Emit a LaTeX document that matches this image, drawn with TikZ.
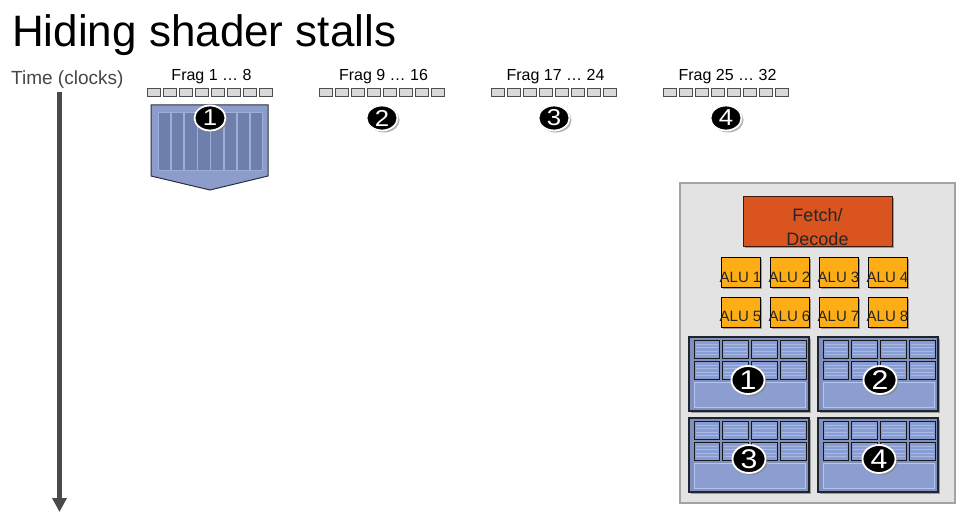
\documentclass[tikz,border=0pt]{standalone}
\usepackage{fontspec}
\setmainfont{Liberation Sans}
\newfontfamily\widefont[FakeStretch=1.12]{Liberation Sans}
\usetikzlibrary{arrows.meta,shapes.geometric,shadows}
\definecolor{panelc}{HTML}{E3E3E3}
\definecolor{panelb}{HTML}{A3A3A3}
\definecolor{fetchc}{HTML}{D9541E}
\definecolor{fetchb}{HTML}{3A1A0A}
\definecolor{aluc}{HTML}{FDAE17}
\definecolor{blockc}{HTML}{8191BD}
\definecolor{blockb}{HTML}{1F2430}
\definecolor{regc}{HTML}{8A9DD2}
\definecolor{regs}{HTML}{A8B9E6}
\definecolor{bigc}{HTML}{8C9ECF}
\definecolor{bigb}{HTML}{B5C5F2}
\definecolor{grpc}{HTML}{8C9DCB}
\definecolor{grpb}{HTML}{2A3040}
\definecolor{colc}{HTML}{6E7FAB}
\definecolor{coll}{HTML}{9DAED9}
\definecolor{sqc}{HTML}{D9D9D9}
\definecolor{sqb}{HTML}{4D4D4D}
\definecolor{timec}{HTML}{4A4540}
\definecolor{arrowc}{HTML}{4A4A4A}
\definecolor{shadc}{HTML}{7F7F7F}
\tikzset{
  sq/.style={draw=sqb, fill=sqc, line width=0.8pt, minimum width=13pt, minimum height=8pt, inner sep=0pt},
  badge/.style={ellipse, fill=black, draw=white, line width=1.8pt, text=white, inner sep=0pt,
    drop shadow={shadow xshift=2pt, shadow yshift=-2pt, fill=shadc, opacity=0.6}},
  topbadge/.style={badge, minimum width=31pt, minimum height=25pt, font=\widefont\fontsize{23}{23}\selectfont},
  ctxbadge/.style={badge, minimum width=33pt, minimum height=28pt, font=\widefont\fontsize{27}{27}\selectfont},
  alubox/.style={draw=black, fill=aluc, line width=0.9pt, minimum width=39pt, minimum height=30pt, inner sep=0pt,
    drop shadow={shadow xshift=1.5pt, shadow yshift=-1.5pt, fill=shadc, opacity=0.7}},
  alutext/.style={anchor=base, inner sep=0pt, font=\fontsize{15}{15}\selectfont, text=black!85},
  lbl/.style={anchor=base, inner sep=0pt, font=\fontsize{16}{16}\selectfont},
  fetchbox/.style={draw=fetchb, fill=fetchc, line width=1pt, minimum width=149pt, minimum height=49pt, inner sep=0pt,
    drop shadow={shadow xshift=1.5pt, shadow yshift=-1.5pt, fill=shadc, opacity=0.7}},
  fetchtext/.style={anchor=base, inner sep=0pt, font=\fontsize{18}{18}\selectfont, text=black!85},
  panelbox/.style={draw=panelb, fill=panelc, line width=1.2pt, minimum width=275pt, minimum height=320pt, inner sep=0pt},
  ctxbox/.style={draw=blockb, fill=blockc, line width=1.3pt, minimum width=120pt, minimum height=74pt, inner sep=0pt,
    drop shadow={shadow xshift=1.5pt, shadow yshift=-1.5pt, fill=shadc, opacity=0.7}},
}
\begin{document}
\begin{tikzpicture}[x=1pt,y=-1pt]
\useasboundingbox[fill=white] (0,0) rectangle (970,532);

% title
\node[anchor=base west, inner sep=0pt, font=\fontsize{44}{44}\selectfont] (title) at (12,47) {Hiding shader stalls};

% time axis
\node[anchor=base west, inner sep=0pt, font=\fontsize{19}{19}\selectfont, text=timec] (time) at (11,84.5) {Time (clocks)};
\coordinate (tA) at (59.5,92);
\coordinate (tB) at (59.5,512);
\draw[arrowc, line width=4.5pt, -{Triangle[width=14pt,length=14pt]}] (tA) -- (tB);

% fragment groups
\foreach \g/\lab in {1/{Frag 1 \dots\ 8},2/{Frag 9 \dots\ 16},3/{Frag 17 \dots\ 24},4/{Frag 25 \dots\ 32}}{
  \pgfmathsetmacro{\cx}{211.5+172*(\g-1)}
  \node[lbl] (frag\g) at (\cx,81) {\lab};
  \foreach \i in {0,...,7}{
    \node[sq] (s\g-\i) at ({\cx-64.5+6.65+16.1*\i},92) {};
  }
}

% group 1 shape
\draw[fill=grpc, draw=grpb, line width=1pt] (151,105) -- (268,105) -- (268,176) -- (210,190) -- (151,176) -- cycle;
\foreach \i in {0,...,7}{
  \draw[fill=colc, draw=coll, line width=0.8pt] ({158+13.1*\i+0.4},112) rectangle ({158+13.1*(\i+1)-0.4},170);
}

% badges on timeline
\node[topbadge] (tb1) at (210,118) {1};
\node[topbadge] (tb2) at (382,118) {2};
\node[topbadge] (tb3) at (554,118) {3};
\node[topbadge] (tb4) at (726,118) {4};

% core panel
\node[panelbox] (panel) at (817.5,343) {};
\node[fetchbox] (fd) at (817.5,221.5) {};
\node[fetchtext] (fdt1) at (817.5,222) {Fetch/};
\node[fetchtext] (fdt2) at (817.5,245.5) {Decode};

\foreach \k/\x in {1/740.5,2/789.5,3/838.5,4/887.5}{
  \node[alubox] (alu\k) at (\x,272.5) {};
  \node[alutext] (alut\k) at (\x,282) {ALU \k};
}
\foreach \k/\x in {5/740.5,6/789.5,7/838.5,8/887.5}{
  \node[alubox] (alu\k) at (\x,312) {};
  \node[alutext] (alut\k) at (\x,321.5) {ALU \k};
}

% contexts
\foreach \n/\bx/\by in {1/689/337,2/818/337,3/689/418,4/818/418}{
  \node[ctxbox] (ctx\n) at (\bx+60,\by+37) {};
  \foreach \ra/\rb in {3/21,24/42}{
    \foreach \ca/\cb in {5/30,33/59,62/88,91/117}{
      \fill[regc] (\bx+\ca,\by+\ra) rectangle (\bx+\cb,\by+\rb);
      \foreach \s in {4,7.5,11,14.5}{
        \draw[regs, line width=0.7pt] (\bx+\ca+1.5,\by+\ra+\s) -- (\bx+\cb-1.5,\by+\ra+\s);
      }
      \draw[black!90, line width=1pt] (\bx+\ca,\by+\ra) rectangle (\bx+\cb,\by+\rb);
    }
  }
  \draw[fill=bigc, draw=bigb, line width=1pt] (\bx+5,\by+45) rectangle (\bx+116,\by+70);
}
\node[ctxbadge] (cb1) at (748,380) {1};
\node[ctxbadge] (cb2) at (880,380) {2};
\node[ctxbadge] (cb3) at (749,459) {3};
\node[ctxbadge] (cb4) at (879,459) {4};
\end{tikzpicture}
\end{document}
